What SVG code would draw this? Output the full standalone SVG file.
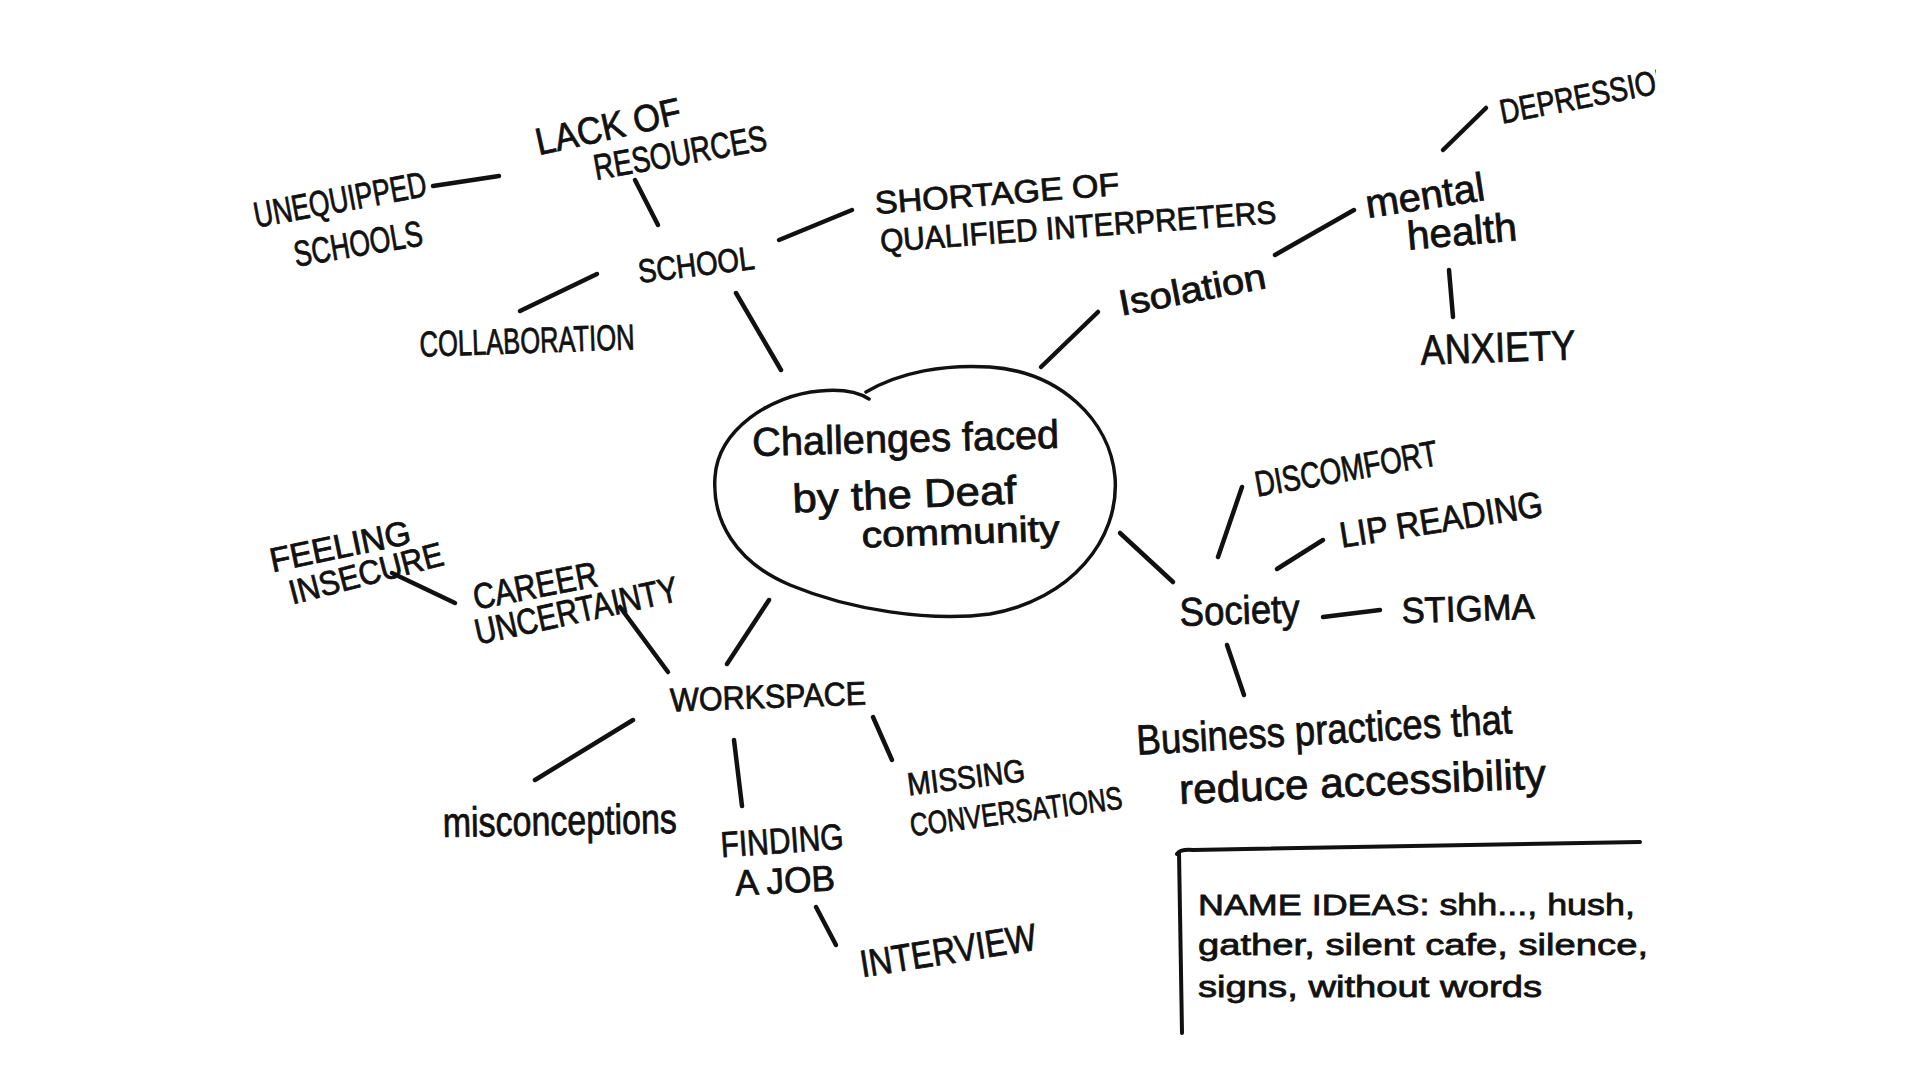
<svg xmlns="http://www.w3.org/2000/svg" width="1920" height="1080" viewBox="0 0 1920 1080">
<defs>
<style>
.t{font-family:"Liberation Sans",Arial,sans-serif;fill:#111;stroke:#111;stroke-width:0.8;text-anchor:middle}
.s{text-anchor:start}
.c{fill:none;stroke:#111;stroke-width:4.5;stroke-linecap:round;stroke-linejoin:round}
</style>
<clipPath id="edge"><rect x="0" y="0" width="1656" height="1080"/></clipPath>
</defs>
<rect width="1920" height="1080" fill="#ffffff"/>

<g id="connectors" class="c">
<line x1="433" y1="186" x2="499" y2="176"/>
<line x1="635" y1="180" x2="658" y2="225"/>
<line x1="779" y1="240" x2="852" y2="210"/>
<line x1="597" y1="274" x2="520" y2="311"/>
<line x1="736" y1="293" x2="781" y2="370"/>
<line x1="1041" y1="367" x2="1098" y2="312"/>
<line x1="1275" y1="255" x2="1354" y2="210"/>
<line x1="1443" y1="150" x2="1486" y2="108"/>
<line x1="1449" y1="270" x2="1453" y2="317"/>
<line x1="1120" y1="533" x2="1173" y2="582"/>
<line x1="1218" y1="557" x2="1242" y2="487"/>
<line x1="1277" y1="569" x2="1323" y2="540"/>
<line x1="1323" y1="617" x2="1380" y2="610"/>
<line x1="1227" y1="645" x2="1244" y2="695"/>
<line x1="769" y1="600" x2="727" y2="664"/>
<line x1="620" y1="607" x2="668" y2="672"/>
<line x1="392" y1="573" x2="455" y2="603"/>
<line x1="633" y1="720" x2="535" y2="780"/>
<line x1="734" y1="740" x2="742" y2="806"/>
<line x1="816" y1="907" x2="836" y2="945"/>
<line x1="873" y1="717" x2="892" y2="760"/>
</g>

<g id="n-center">
<path class="c" style="stroke-width:3.5" d="M866,392 C900,372 945,364 990,367 C1060,372 1110,420 1115,477 C1120,540 1070,600 990,614 C930,622 850,610 790,585 C735,562 712,520 715,477 C718,430 770,395 820,391 C840,389 858,392 869,399"/>
<text class="t" font-size="40" transform="translate(906,452) rotate(-1.5)" textLength="307" lengthAdjust="spacingAndGlyphs">Challenges faced</text>
<text class="t" font-size="40" transform="translate(905,508) rotate(-2.3)" textLength="224" lengthAdjust="spacingAndGlyphs">by the Deaf</text>
<text class="t" font-size="36" transform="translate(961,544) rotate(-2)" textLength="198" lengthAdjust="spacingAndGlyphs">community</text>
</g>

<g id="n-unequipped">
<text class="t" font-size="36" transform="translate(340,199) rotate(-10.5)" y="13" textLength="175" lengthAdjust="spacingAndGlyphs">UNEQUIPPED</text>
<text class="t" font-size="36" transform="translate(358,243) rotate(-9.6)" y="13" textLength="130" lengthAdjust="spacingAndGlyphs">SCHOOLS</text>
</g>

<g id="n-lack">
<text class="t" font-size="38" transform="translate(608,126) rotate(-12.5)" y="13.6" textLength="148" lengthAdjust="spacingAndGlyphs">LACK OF</text>
<text class="t" font-size="36" transform="translate(680,152) rotate(-10)" y="13" textLength="175" lengthAdjust="spacingAndGlyphs">RESOURCES</text>
</g>

<g id="n-school">
<text class="t" font-size="33" transform="translate(696,264) rotate(-7)" y="12" textLength="117" lengthAdjust="spacingAndGlyphs">SCHOOL</text>
</g>

<g id="n-collaboration">
<text class="t" font-size="36" transform="translate(527,340) rotate(-2)" y="13" textLength="215" lengthAdjust="spacingAndGlyphs">COLLABORATION</text>
</g>

<g id="n-shortage">
<text class="t" font-size="32" transform="translate(997,193) rotate(-4.5)" y="11.5" textLength="245" lengthAdjust="spacingAndGlyphs">SHORTAGE OF</text>
<text class="t" font-size="32" transform="translate(1078,226) rotate(-4.2)" y="11.5" textLength="397" lengthAdjust="spacingAndGlyphs">QUALIFIED INTERPRETERS</text>
</g>

<g id="n-isolation">
<text class="t" font-size="36" transform="translate(1192,289) rotate(-10.8)" y="13" textLength="149" lengthAdjust="spacingAndGlyphs">Isolation</text>
</g>

<g id="n-mental">
<text class="t" font-size="40" transform="translate(1427,209) rotate(-8.7)" textLength="120" lengthAdjust="spacingAndGlyphs">mental</text>
<text class="t" font-size="40" transform="translate(1463,245) rotate(-5)" textLength="110" lengthAdjust="spacingAndGlyphs">health</text>
</g>

<g id="n-depression" clip-path="url(#edge)">
<text class="t s" font-size="34" transform="translate(1500,112) rotate(-11)" y="12" textLength="178" lengthAdjust="spacingAndGlyphs">DEPRESSION</text>
</g>

<g id="n-anxiety">
<text class="t" font-size="42" transform="translate(1498,347) rotate(-2)" y="15" textLength="155" lengthAdjust="spacingAndGlyphs">ANXIETY</text>
</g>

<g id="n-society">
<text class="t" font-size="40" transform="translate(1240,624) rotate(-2)" textLength="120" lengthAdjust="spacingAndGlyphs">Society</text>
</g>

<g id="n-discomfort">
<text class="t" font-size="36" transform="translate(1346,468) rotate(-10)" y="13" textLength="185" lengthAdjust="spacingAndGlyphs">DISCOMFORT</text>
</g>

<g id="n-lipreading">
<text class="t" font-size="36" transform="translate(1441,519) rotate(-9)" y="13" textLength="205" lengthAdjust="spacingAndGlyphs">LIP READING</text>
</g>

<g id="n-stigma">
<text class="t" font-size="36" transform="translate(1468,608) rotate(-2)" y="13" textLength="133" lengthAdjust="spacingAndGlyphs">STIGMA</text>
</g>

<g id="n-business">
<text class="t" font-size="42" transform="translate(1325,744) rotate(-3.3)" textLength="376" lengthAdjust="spacingAndGlyphs">Business practices that</text>
<text class="t" font-size="42" transform="translate(1363,796) rotate(-2.5)" textLength="367" lengthAdjust="spacingAndGlyphs">reduce accessibility</text>
</g>

<g id="n-workspace">
<text class="t" font-size="33" transform="translate(768,696) rotate(-2)" y="12" textLength="196" lengthAdjust="spacingAndGlyphs">WORKSPACE</text>
</g>

<g id="n-career">
<text class="t" font-size="36" transform="translate(535,585) rotate(-11)" y="13" textLength="126" lengthAdjust="spacingAndGlyphs">CAREER</text>
<text class="t" font-size="36" transform="translate(576,610) rotate(-12.3)" y="13" textLength="207" lengthAdjust="spacingAndGlyphs">UNCERTAINTY</text>
</g>

<g id="n-feeling">
<text class="t" font-size="34" transform="translate(340,546) rotate(-11.7)" y="12" textLength="143" lengthAdjust="spacingAndGlyphs">FEELING</text>
<text class="t" font-size="34" transform="translate(366,573) rotate(-14.6)" y="12" textLength="158" lengthAdjust="spacingAndGlyphs">INSECURE</text>
</g>

<g id="n-misconceptions">
<text class="t" font-size="42" transform="translate(560,835) rotate(-1)" textLength="234" lengthAdjust="spacingAndGlyphs">misconceptions</text>
</g>

<g id="n-finding">
<text class="t" font-size="36" transform="translate(782,840) rotate(-4)" y="13" textLength="123" lengthAdjust="spacingAndGlyphs">FINDING</text>
<text class="t" font-size="36" transform="translate(785,880) rotate(-3)" y="13" textLength="100" lengthAdjust="spacingAndGlyphs">A JOB</text>
</g>

<g id="n-interview">
<text class="t" font-size="38" transform="translate(948,950) rotate(-9)" y="13.6" textLength="178" lengthAdjust="spacingAndGlyphs">INTERVIEW</text>
</g>

<g id="n-missing">
<text class="t" font-size="32" transform="translate(966,777) rotate(-7)" y="11.5" textLength="118" lengthAdjust="spacingAndGlyphs">MISSING</text>
<text class="t" font-size="32" transform="translate(1016,811) rotate(-7.5)" y="11.5" textLength="214" lengthAdjust="spacingAndGlyphs">CONVERSATIONS</text>
</g>

<g id="n-names">
<path class="c" style="stroke-width:4" d="M1177,854 Q1180,849 1193,850 L1640,842 M1179,852 L1182,1033"/>
<text class="t s" font-size="30" x="1198" y="915" textLength="437" lengthAdjust="spacingAndGlyphs">NAME IDEAS: shh..., hush,</text>
<text class="t s" font-size="30" x="1198" y="955" textLength="450" lengthAdjust="spacingAndGlyphs">gather, silent cafe, silence,</text>
<text class="t s" font-size="30" x="1198" y="997" textLength="344" lengthAdjust="spacingAndGlyphs">signs, without words</text>
</g>
</svg>
